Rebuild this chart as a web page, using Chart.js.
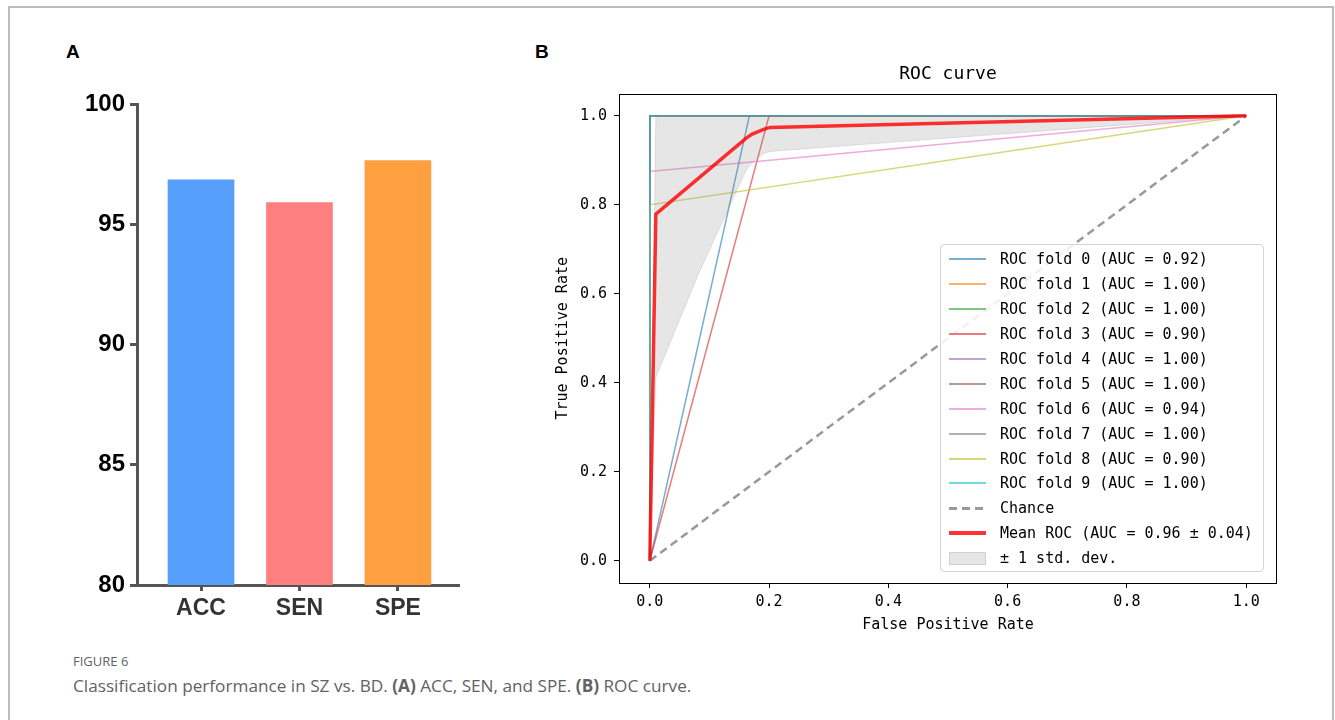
<!DOCTYPE html>
<html>
<head>
<meta charset="utf-8">
<script src="https://cdn.jsdelivr.net/npm/chart.js@4.4.1/dist/chart.umd.min.js"></script>
<style>
  body { margin: 0; background: #fff; width: 1335px; height: 720px; overflow: hidden; position: relative; }
  .frame { position: absolute; left: 8px; top: 6px; width: 1322px; height: 740px;
           border: 2px solid #bdbdbd; border-bottom: none; }
  .panel { position: absolute; font: bold 19px "Liberation Sans", Arial, sans-serif; color: #000; }
  canvas { position: absolute; }
  #legend { position: absolute; left: 940px; top: 244px; width: 324px; height: 328px;
            border: 1px solid #d4d4d4; border-radius: 4px; background: rgba(255,255,255,0.85);
            font: 15px "DejaVu Sans Mono", monospace; color: #000; padding-top: 2px; box-sizing: border-box; }
  .row { height: 24.9px; display: flex; align-items: center; white-space: pre; }
  .swatch { width: 37px; margin-left: 8px; margin-right: 14px; }
  .caption { position: absolute; left: 73px; font-family: "Open Sans", Lato, sans-serif; color: #626262; }
</style>
</head>
<body>
<div class="frame"></div>
<div class="panel" style="left:66px; top:41px;">A</div>
<div class="panel" style="left:535px; top:41px;">B</div>
<canvas id="bars" width="400" height="560" style="left:60px; top:80px;"></canvas>
<canvas id="roc" width="760" height="590" style="left:540px; top:55px;"></canvas>
<div id="legend"></div>
<div class="caption" style="top:652px; font-size:13px;">FIGURE 6</div>
<div class="caption" style="top:674px; font-size:17.2px;">Classification performance in SZ vs. BD. <b>(A)</b> ACC, SEN, and SPE. <b>(B)</b> ROC curve.</div>
<script>
"use strict";

// panel A
const barCategories = ['ACC', 'SEN', 'SPE'];
const barValues = [96.85, 95.9, 97.65];
const barTicks = [80, 85, 90, 95, 100];
const barColors = ['#569ffb', '#fe7f80', '#fea03f'];

// panel B - one fpr/tpr list per fold
const foldAuc = ['0.92', '1.00', '1.00', '0.90', '1.00', '1.00', '0.94', '1.00', '0.90', '1.00'];
const foldFpr = [
    [0, 0.167, 1], [0, 0, 1], [0, 0, 1], [0, 0.2, 1], [0, 0, 1],
    [0, 0, 1], [0, 0, 1], [0, 0, 1], [0, 0, 1], [0, 0, 1]
];
const foldTpr = [
    [0, 1, 1], [0, 1, 1], [0, 1, 1], [0, 1, 1], [0, 1, 1],
    [0, 1, 1], [0, 0.875, 1], [0, 1, 1], [0, 0.8, 1], [0, 1, 1]
];
const foldColors = ['#1f77b4', '#ff7f0e', '#2ca02c', '#d62728', '#9467bd',
                    '#8c564b', '#e377c2', '#7f7f7f', '#bcbd22', '#17becf'];

const meanFpr = [0, 0.0101, 0.1616, 0.1717, 0.1919, 0.202, 1];
const meanTpr = [0, 0.779, 0.950, 0.959, 0.970, 0.974, 1];

const bandFpr = [0, 0.0101, 0.0808, 0.1616, 0.1717, 0.1919, 0.202, 0.35, 0.5, 0.65, 0.8, 0.9, 1];
const bandUpper = [0, 1, 1, 1, 1, 1, 1, 1, 1, 1, 1, 1, 1];
const bandLower = [0, 0.412, 0.642, 0.878, 0.895, 0.916, 0.920, 0.935, 0.950, 0.965, 0.980, 0.990, 1];

const chanceFpr = [0, 1];
const chanceTpr = [0, 1];

const rocTicks = [0, 0.2, 0.4, 0.6, 0.8, 1.0];

const toPoints = (xs, ys) => xs.map((x, i) => ({x: x, y: ys[i]}));

const alpha = (hex, a) => {
    const n = parseInt(hex.slice(1), 16);
    return `rgba(${n >> 16}, ${(n >> 8) & 255}, ${n & 255}, ${a})`;
}

// ---------- bar chart ----------
const axisGrey = '#555555';
new Chart(document.getElementById('bars'), {
    type: 'bar',
    data: {
        datasets: [{
            data: barValues.map((v, i) => ({x: i + 1, y: v})),
            backgroundColor: barColors,
            barThickness: 66
        }]
    },
    options: {
        responsive: false,
        animation: false,
        layout: {padding: {top: 24, right: 2, left: 0, bottom: 0}},
        plugins: {legend: {display: false}, tooltip: {enabled: false}},
        scales: {
            x: {
                type: 'linear', min: 0.35, max: 3.61, offset: false,
                afterBuildTicks: (s) => { s.ticks = barCategories.map((c, i) => ({value: i + 1})); },
                afterFit: (s) => { s.height = 55; },
                ticks: {
                    callback: (v) => barCategories[v - 1],
                    color: '#333', padding: 4,
                    font: {family: '"Liberation Sans", Arial', size: 23, weight: 'bold'}
                },
                grid: {offset: false, drawOnChartArea: false, color: axisGrey, lineWidth: 3, tickLength: 6},
                border: {color: axisGrey, width: 3}
            },
            y: {
                min: 80, max: 100,
                afterBuildTicks: (s) => { s.ticks = barTicks.map(v => ({value: v})); },
                afterFit: (s) => { s.width = 77; },
                ticks: {
                    color: '#000', padding: 5,
                    font: {family: '"Liberation Sans", Arial', size: 24, weight: 'bold'}
                },
                grid: {drawOnChartArea: false, color: axisGrey, lineWidth: 3, tickLength: 7},
                border: {color: axisGrey, width: 3}
            }
        }
    }
});

// ---------- ROC chart ----------
const boxPlugin = {
    id: 'box',
    afterDatasetsDraw(chart) {
        const {ctx, chartArea: a} = chart;
        ctx.save();
        ctx.strokeStyle = '#000';
        ctx.lineWidth = 1;
        ctx.strokeRect(Math.round(a.left) - 0.5, Math.round(a.top) + 0.5,
                       Math.round(a.right - a.left) + 1, Math.round(a.bottom - a.top));
        ctx.restore();
    }
};

const monoFont = '"DejaVu Sans Mono", monospace';
const datasets = [];

foldFpr.forEach((xs, i) => {
    datasets.push({
        label: `ROC fold ${i} (AUC = ${foldAuc[i]})`,
        data: toPoints(xs, foldTpr[i]),
        borderColor: alpha(foldColors[i], 0.6),
        borderWidth: 1.5,
        order: 20 - i
    });
});
datasets.push({
    label: 'Chance',
    data: toPoints(chanceFpr, chanceTpr),
    borderColor: 'rgba(128,128,128,0.8)',
    borderWidth: 2.5,
    borderDash: [8, 5],
    order: 5
});
datasets.push({
    label: 'Mean ROC (AUC = 0.96 \u00b1 0.04)',
    data: toPoints(meanFpr, meanTpr),
    borderColor: 'rgba(255,0,0,0.8)',
    borderWidth: 3.5,
    order: 0
});
const lowerIndex = datasets.length + 1;
datasets.push({
    label: '\u00b1 1 std. dev.',
    data: toPoints(bandFpr, bandUpper),
    borderColor: 'rgba(128,128,128,0.2)',
    borderWidth: 1,
    backgroundColor: 'rgba(128,128,128,0.2)',
    fill: lowerIndex,
    order: 1
});
datasets.push({
    label: 'band lower',
    data: toPoints(bandFpr, bandLower),
    borderColor: 'rgba(128,128,128,0.2)',
    borderWidth: 1,
    fill: false,
    order: 2
});

new Chart(document.getElementById('roc'), {
    type: 'line',
    data: {datasets: datasets},
    plugins: [boxPlugin],
    options: {
        responsive: false,
        animation: false,
        elements: {point: {radius: 0}, line: {tension: 0}},
        layout: {padding: {top: 0, right: 24, left: 0, bottom: 0}},
        plugins: {
            legend: {display: false},
            tooltip: {enabled: false},
            title: {
                display: true, text: 'ROC curve', color: '#000', fullSize: false,
                font: {family: monoFont, size: 18, weight: 'normal'},
                padding: {top: 9, bottom: 8}
            }
        },
        scales: {
            x: {
                type: 'linear', min: -0.05, max: 1.05,
                afterBuildTicks: (s) => { s.ticks = rocTicks.map(v => ({value: v})); },
                afterFit: (s) => { s.height = 62; },
                ticks: {callback: (v) => v.toFixed(1), color: '#000', padding: 5,
                        font: {family: monoFont, size: 15}},
                grid: {drawOnChartArea: false, color: '#000', tickLength: 5},
                border: {display: false},
                title: {display: true, text: 'False Positive Rate', color: '#000',
                        font: {family: monoFont, size: 15}, padding: {top: 0, bottom: 11}}
            },
            y: {
                min: -0.05, max: 1.05,
                afterBuildTicks: (s) => { s.ticks = rocTicks.map(v => ({value: v})); },
                afterFit: (s) => { s.width = 80; },
                ticks: {callback: (v) => v.toFixed(1), color: '#000', padding: 7,
                        font: {family: monoFont, size: 15}},
                grid: {drawOnChartArea: false, color: '#000', tickLength: 6},
                border: {display: false},
                title: {display: true, text: 'True Positive Rate', color: '#000',
                        font: {family: monoFont, size: 15}, padding: {top: 14, bottom: 0}}
            }
        }
    }
});

// legend drawn as html, inside the axes like matplotlib's lower right legend
const legend = document.getElementById('legend');
datasets.filter(d => d.label !== 'band lower').forEach(d => {
    const row = document.createElement('div');
    row.className = 'row';
    const sw = document.createElement('div');
    sw.className = 'swatch';
    if (d.fill) {
        sw.style.height = '13px';
        sw.style.background = '#e6e6e6';
        sw.style.border = '1px solid #d0d0d0';
        sw.style.boxSizing = 'border-box';
    } else if (d.borderDash) {
        sw.style.height = '2.5px';
        sw.style.background = 'repeating-linear-gradient(90deg, #999 0 8px, transparent 8px 13px)';
    } else {
        sw.style.height = d.borderWidth > 2 ? '4px' : '2px';
        sw.style.background = d.borderColor;
    }
    row.appendChild(sw);
    const txt = document.createElement('span');
    txt.textContent = d.label;
    row.appendChild(txt);
    legend.appendChild(row);
});
</script>
</body>
</html>
